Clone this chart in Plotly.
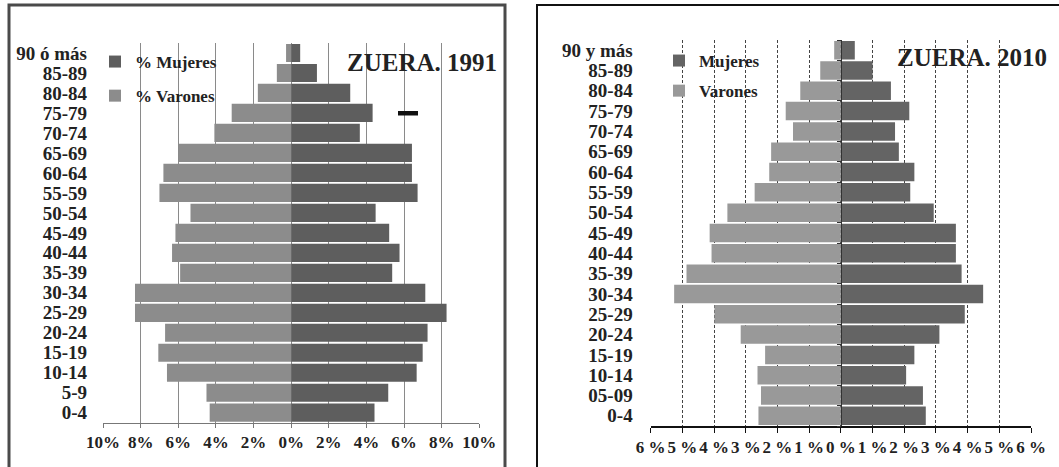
import plotly.graph_objects as go

# ---------------- data ----------------
ages_1991 = ["0-4", "5-9", "10-14", "15-19", "20-24", "25-29", "30-34", "35-39",
             "40-44", "45-49", "50-54", "55-59", "60-64", "65-69", "70-74",
             "75-79", "80-84", "85-89", "90 ó más"]
mujeres_1991 = [4.43, 5.16, 6.67, 6.99, 7.25, 8.26, 7.13, 5.37, 5.76, 5.21,
                4.49, 6.72, 6.42, 6.42, 3.65, 4.33, 3.14, 1.37, 0.48]
varones_1991 = [4.33, 4.50, 6.60, 7.06, 6.70, 8.30, 8.30, 5.90, 6.33, 6.15,
                5.35, 7.00, 6.79, 5.98, 4.08, 3.16, 1.77, 0.76, 0.27]

ages_2010 = ["0-4", "05-09", "10-14", "15-19", "20-24", "25-29", "30-34", "35-39",
             "40-44", "45-49", "50-54", "55-59", "60-64", "65-69", "70-74",
             "75-79", "80-84", "85-89", "90 y más"]
mujeres_2010 = [2.68, 2.59, 2.06, 2.32, 3.11, 3.91, 4.49, 3.81, 3.63, 3.63,
                2.93, 2.19, 2.32, 1.83, 1.71, 2.16, 1.58, 1.00, 0.44]
varones_2010 = [2.60, 2.52, 2.63, 2.39, 3.16, 3.99, 5.26, 4.87, 4.08, 4.14,
                3.58, 2.72, 2.26, 2.20, 1.51, 1.74, 1.28, 0.65, 0.21]

ticks_1991 = [-10, -8, -6, -4, -2, 0, 2, 4, 6, 8, 10]
ticktext_1991 = ["10%", "8%", "6%", "4%", "2%", "0%", "2%", "4%", "6%", "8%", "10%"]
ticks_2010 = [-6, -5, -4, -3, -2, -1, 0, 1, 2, 3, 4, 5, 6]
ticktext_2010 = ["6 %", "5 %", "4 %", "3 %", "2 %", "1 %", "0 %", "1 %", "2 %",
                 "3 %", "4 %", "5 %", "6 %"]

# ---------------- style ----------------
W, H = 1059, 467
SERIF = "Liberation Serif, Times New Roman, serif"
C_MUJ_91, C_VAR_91 = "#5e5e5e", "#8c8c8c"
C_MUJ_10, C_VAR_10 = "#646464", "#999999"


def px_x(p):
    return p / W


def px_y(p):
    return 1 - p / H


def bold(s):
    return "<b>" + s + "</b>"


fig = go.Figure()

# 1991 panel
fig.add_trace(go.Bar(y=ages_1991, x=mujeres_1991, orientation="h", name=bold("% Mujeres"),
                     marker=dict(color=C_MUJ_91, line=dict(width=0)),
                     xaxis="x", yaxis="y", legend="legend", legendgroup="m91"))
fig.add_trace(go.Bar(y=ages_1991, x=[-v for v in varones_1991], orientation="h",
                     name=bold("% Varones"),
                     marker=dict(color=C_VAR_91, line=dict(width=0)),
                     xaxis="x", yaxis="y", legend="legend", legendgroup="v91"))

# 2010 panel
fig.add_trace(go.Bar(y=ages_2010, x=mujeres_2010, orientation="h", name=bold("Mujeres"),
                     marker=dict(color=C_MUJ_10, line=dict(width=0)),
                     xaxis="x2", yaxis="y2", legend="legend2", legendgroup="m10"))
fig.add_trace(go.Bar(y=ages_2010, x=[-v for v in varones_2010], orientation="h",
                     name=bold("Varones"),
                     marker=dict(color=C_VAR_10, line=dict(width=0)),
                     xaxis="x2", yaxis="y2", legend="legend2", legendgroup="v10"))
# invisible helper trace for the centre axis of the 2010 panel
fig.add_trace(go.Scatter(y=ages_2010, x=[0] * len(ages_2010), mode="none",
                         xaxis="x2", yaxis="y3", showlegend=False, hoverinfo="skip"))

dom_x1 = [px_x(103), px_x(479.3)]
dom_y1 = [px_y(422.7), px_y(43)]
dom_x2 = [px_x(650.7), px_x(1031)]
dom_y2 = [px_y(426), px_y(40)]

tickfont = dict(family=SERIF, size=17, color="#222")
ylabfont = dict(family=SERIF, size=19, color="#222")

fig.update_layout(
    width=W, height=H,
    margin=dict(l=0, r=0, t=0, b=0, pad=0),
    paper_bgcolor="white", plot_bgcolor="rgba(0,0,0,0)",
    barmode="relative", bargap=0.09,
    xaxis=dict(domain=dom_x1, anchor="y", range=[-10, 10], tickvals=ticks_1991,
               ticktext=[bold(t) for t in ticktext_1991], showgrid=True,
               gridcolor="#8a8a8a", gridwidth=1, automargin=False, tickangle=0,
               zeroline=False, showline=True, linecolor="#777", linewidth=1,
               ticks="outside", ticklen=4, tickcolor="#777", tickfont=tickfont),
    yaxis=dict(domain=dom_y1, anchor="x", type="category", automargin=False,
               categoryorder="array", categoryarray=ages_1991,
               tickvals=ages_1991, ticktext=[bold(a) for a in ages_1991],
               range=[-0.5, len(ages_1991) - 0.5],
               showgrid=False, zeroline=False, showline=False, ticks="",
               ticklabelstandoff=15, tickfont=ylabfont),
    xaxis2=dict(domain=dom_x2, anchor="y2", range=[-6, 6], tickvals=ticks_2010,
                ticktext=[bold(t) for t in ticktext_2010], showgrid=True,
                gridcolor="#444", gridwidth=1, automargin=False, tickangle=0,
                griddash="3px,2px", zeroline=False, showline=True, linecolor="#111",
                linewidth=1.5, ticks="outside", ticklen=5, tickcolor="#111",
                tickfont=dict(family=SERIF, size=17, color="#222")),
    yaxis2=dict(domain=dom_y2, anchor="x2", type="category", automargin=False,
                categoryorder="array", categoryarray=ages_2010,
                tickvals=ages_2010, ticktext=[bold(a) for a in ages_2010],
                range=[-0.5, len(ages_2010) - 0.5],
                showgrid=False, zeroline=False, showline=False, ticks="",
                ticklabelstandoff=17, tickfont=ylabfont),
    yaxis3=dict(overlaying="y2", anchor="free", automargin=False,
                position=(dom_x2[0] + dom_x2[1]) / 2, type="category",
                categoryorder="array", categoryarray=ages_2010,
                range=[-0.5, len(ages_2010) - 0.5],
                showgrid=False, zeroline=False, showline=True, linecolor="#333",
                linewidth=1, ticks="outside", tickson="boundaries", ticklen=4,
                tickcolor="#333", showticklabels=False),
    legend=dict(x=px_x(95), y=px_y(44), xanchor="left", yanchor="top",
                bgcolor="rgba(0,0,0,0)", traceorder="grouped", tracegroupgap=9,
                itemwidth=30, font=dict(family=SERIF, size=17, color="#222")),
    legend2=dict(x=px_x(659), y=px_y(43), xanchor="left", yanchor="top",
                 bgcolor="rgba(0,0,0,0)", traceorder="grouped", tracegroupgap=5,
                 itemwidth=30, font=dict(family=SERIF, size=17, color="#222")),
    showlegend=True,
)

fig.add_annotation(text=bold("ZUERA. 1991"), xref="paper", yref="paper",
                   x=px_x(422), y=px_y(62), xanchor="center", yanchor="middle",
                   showarrow=False, font=dict(family=SERIF, size=25, color="#222"))
fig.add_annotation(text=bold("ZUERA. 2010"), xref="paper", yref="paper",
                   x=px_x(972), y=px_y(57), xanchor="center", yanchor="middle",
                   showarrow=False, font=dict(family=SERIF, size=25, color="#222"))

# panel frames
fig.add_shape(type="rect", xref="paper", yref="paper",
              x0=px_x(9), x1=px_x(505), y0=-0.02, y1=px_y(5),
              line=dict(color="#4a4a4a", width=3), fillcolor="rgba(0,0,0,0)",
              layer="above")
fig.add_shape(type="rect", xref="paper", yref="paper",
              x0=px_x(537), x1=1.02, y0=-0.02, y1=px_y(5),
              line=dict(color="#111", width=2), fillcolor="rgba(0,0,0,0)",
              layer="above")
# small black dash in the 1991 panel
fig.add_shape(type="rect", xref="paper", yref="paper",
              x0=px_x(398), x1=px_x(418), y0=px_y(115.5), y1=px_y(111),
              line=dict(width=0), fillcolor="#111")

fig.write_html("out.html", config={"displayModeBar": False},
               post_script="document.body.style.margin='0';"
                           "document.body.style.overflow='hidden';")
